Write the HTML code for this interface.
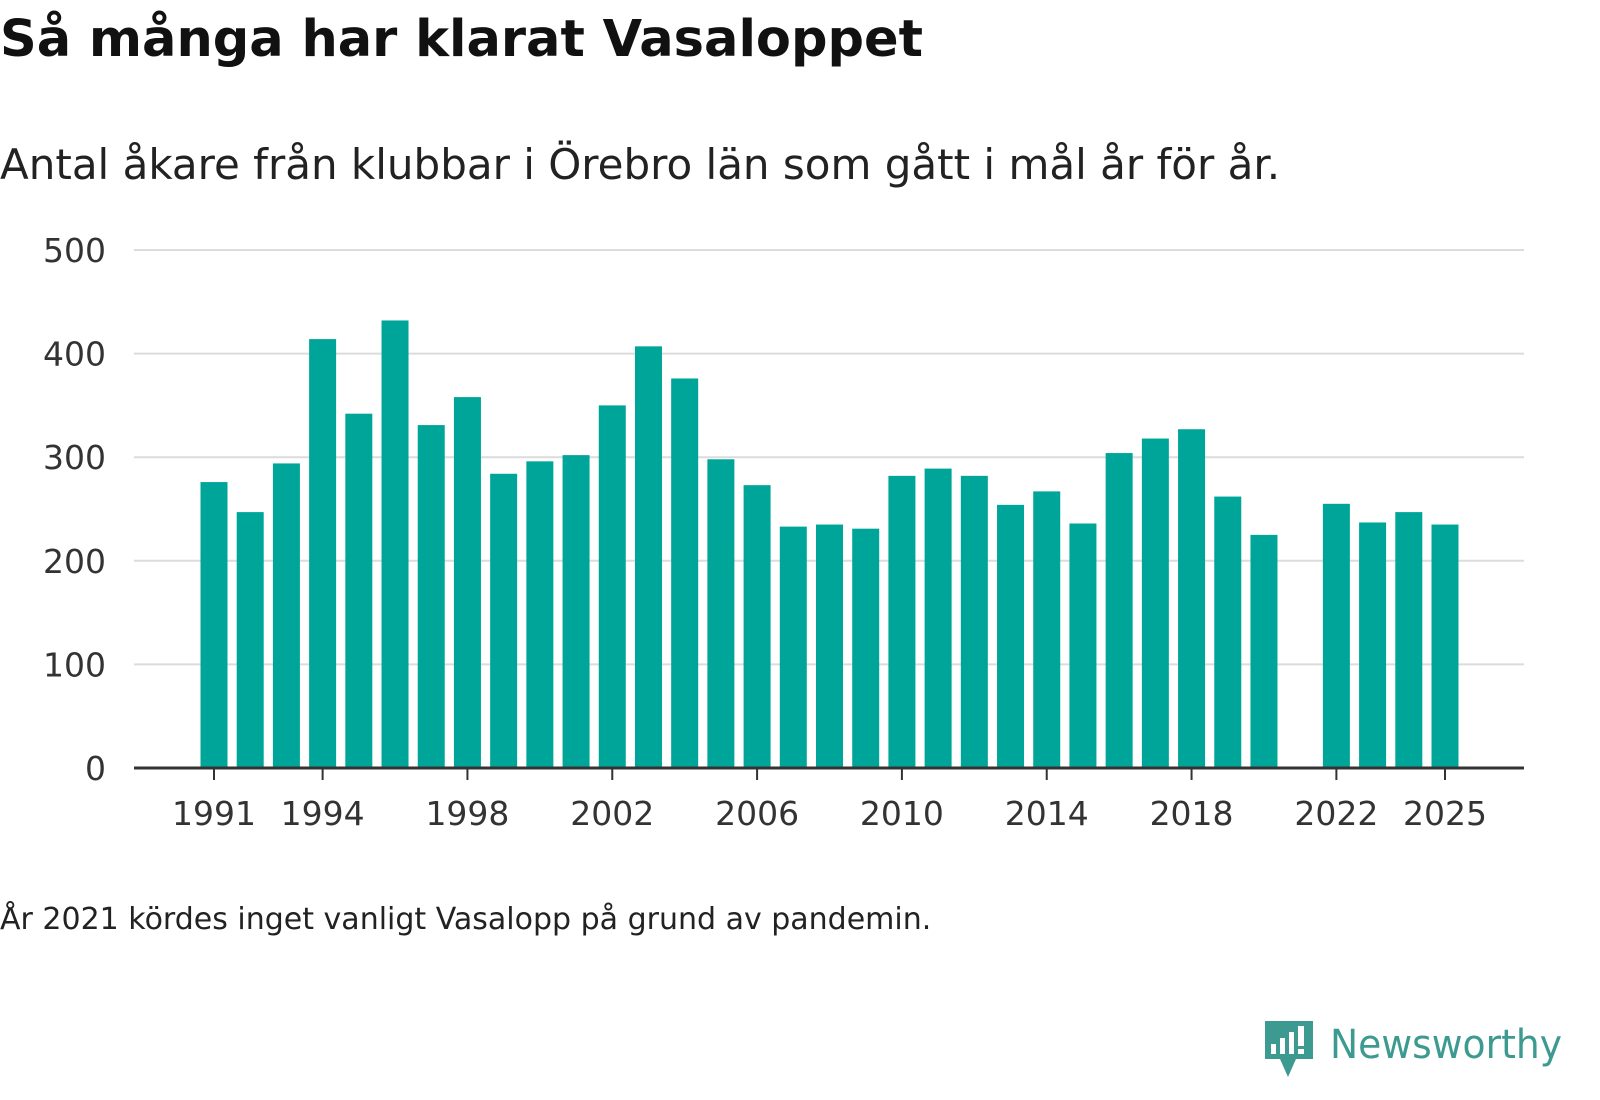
<!DOCTYPE html>
<html><head><meta charset="utf-8"><style>
body{margin:0;width:1600px;height:1100px;background:#fff;font-family:"DejaVu Sans","Liberation Sans",sans-serif;color:#111;overflow:hidden;position:relative}
#title{position:absolute;left:0;top:10px;font-size:51px;font-weight:bold}
#sub{position:absolute;left:0;top:140px;font-size:42px;color:#222}
#note{position:absolute;left:0;top:902px;font-size:30px;color:#222}
#logo{position:absolute;left:1262px;top:1018px}
svg text{font-family:"DejaVu Sans","Liberation Sans",sans-serif}
</style></head><body>
<div id="title">Så många har klarat Vasaloppet</div>
<div id="sub">Antal åkare från klubbar i Örebro län som gått i mål år för år.</div>
<svg id="chart" width="1600" height="1100" style="position:absolute;left:0;top:0"></svg>
<div id="note">År 2021 kördes inget vanligt Vasalopp på grund av pandemin.</div>
<div id="logo">
<svg width="310" height="62" viewBox="0 0 310 62">
<path d="M3 3h48v38h-17l-8 18-8-18H3z" fill="#3d9a91"/>
<rect x="9" y="26" width="5" height="10" fill="#fff"/><rect x="18" y="20" width="5" height="16" fill="#fff"/><rect x="27" y="14" width="5" height="22" fill="#fff"/><rect x="36" y="8" width="6" height="20" fill="#fff"/><rect x="36" y="31" width="6" height="5" fill="#fff"/>
<text x="68" y="40" font-size="40" fill="#3d9a91" textLength="232" lengthAdjust="spacingAndGlyphs">Newsworthy</text>
</svg></div>
<script>
const years=[1991,1992,1993,1994,1995,1996,1997,1998,1999,2000,2001,2002,2003,2004,2005,2006,2007,2008,2009,2010,2011,2012,2013,2014,2015,2016,2017,2018,2019,2020,2021,2022,2023,2024,2025];
const values=[276,247,294,414,342,432,331,358,284,296,302,350,407,376,298,273,233,235,231,282,289,282,254,267,236,304,318,327,262,225,null,255,237,247,235];
const yTicks=[0,100,200,300,400,500];
const xTickYears=[1991,1994,1998,2002,2006,2010,2014,2018,2022,2025];
const svg=document.getElementById('chart');const NS='http://www.w3.org/2000/svg';
const y0=768,y1=250,x0=214,x1=1445;
const y=v=>y0-(v/500)*(y0-y1);
const x=yr=>x0+(yr-1991)*(x1-x0)/34;
function mk(t,a){const e=document.createElementNS(NS,t);for(const k in a)e.setAttribute(k,a[k]);svg.appendChild(e);return e;}
yTicks.forEach(t=>{
 if(t>0){const g=mk('line',{x1:134,x2:1524,y1:y(t),y2:y(t),stroke:'#dcdcdc','stroke-width':2});
 
 }
 const l=mk('text',{x:106,y:y(t)+12,'text-anchor':'end','font-size':33,fill:'#333'});l.textContent=t;
 
 
});
const bw=27;
years.forEach((yr,i)=>{const v=values[i];if(v==null)return;
 const r=mk('rect',{x:x(yr)-bw/2,y:y(v),width:bw,height:y0-y(v),fill:'#00a59a'});
 
 
});
const ax=mk('line',{x1:134,x2:1524,y1:y0,y2:y0,stroke:'#333','stroke-width':3});


xTickYears.forEach(yr=>{
 const tk=mk('line',{x1:x(yr),x2:x(yr),y1:y0,y2:y0+12,stroke:'#333','stroke-width':2});
 
 
 const l=mk('text',{x:x(yr),y:y0+57,'text-anchor':'middle','font-size':33,fill:'#333'});l.textContent=yr;
 
 
});
</script>
</body></html>
